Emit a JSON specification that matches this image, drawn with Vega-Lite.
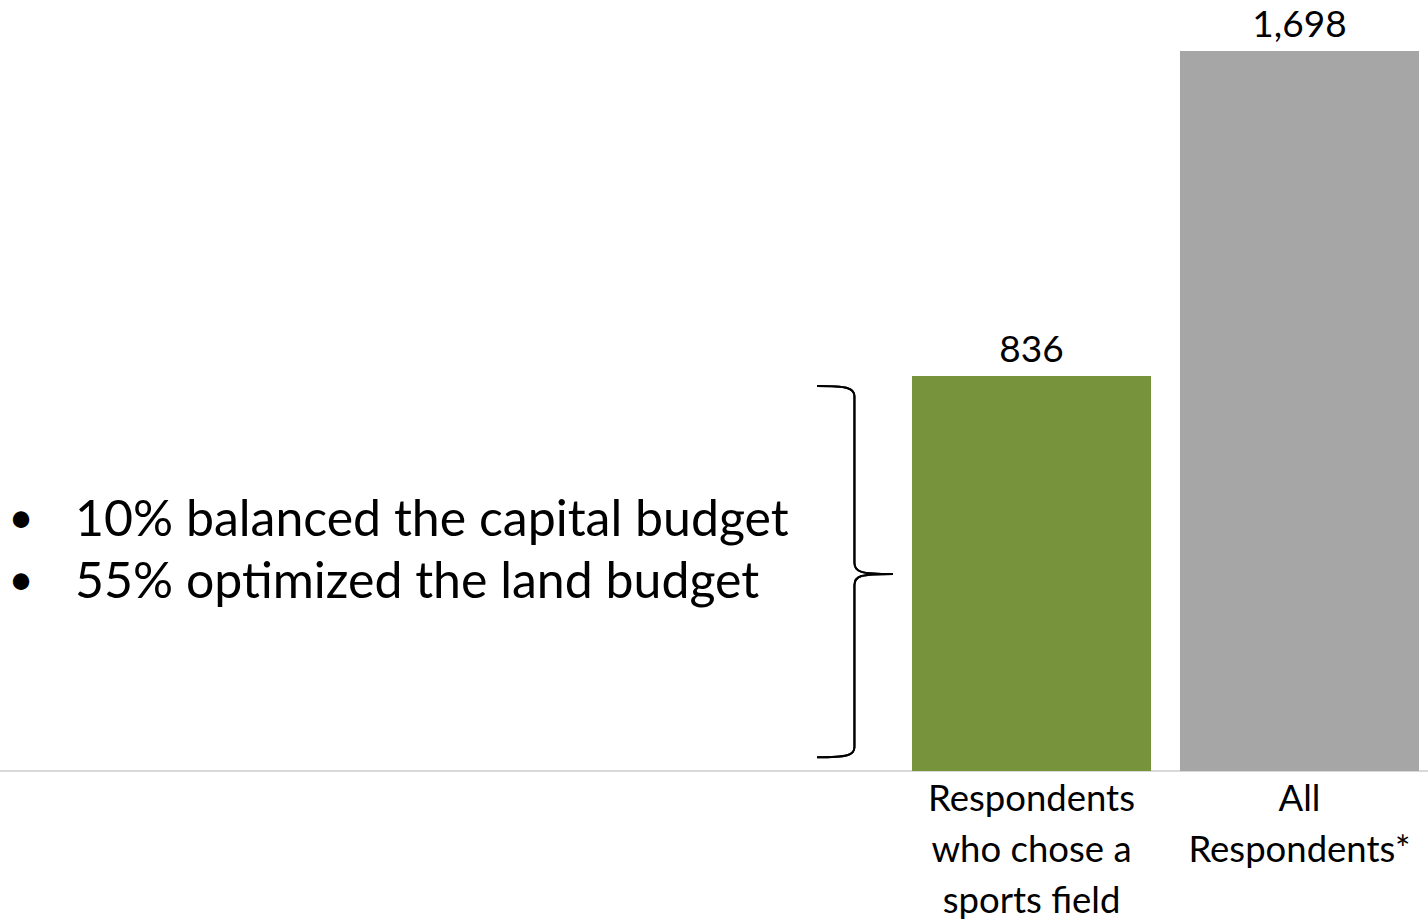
{
  "$schema": "https://vega.github.io/schema/vega-lite/v6.json",
  "width": 1428,
  "height": 771,
  "autosize": {"type": "none"},
  "padding": {"left": 0, "top": 0, "right": 0, "bottom": 149},
  "background": "white",
  "config": {"view": {"stroke": null}, "font": "Lato"},
  "layer": [
    {
      "data": {"values": [
        {"group": "Respondents who chose a sports field", "respondents": 836},
        {"group": "All Respondents*", "respondents": 1698}
      ]},
      "layer": [
        {
          "data": {"values": [{"line": "baseline"}]},
          "mark": {"type": "rule", "color": "#D9D9D9", "strokeWidth": 2},
          "encoding": {"y": {"datum": -211.6, "type": "quantitative", "axis": null}}
        },
        {
          "mark": {"type": "bar"},
          "encoding": {
            "x": {
              "field": "group", "type": "nominal", "sort": null,
              "scale": {"range": [912, 1419], "paddingInner": 0.108, "paddingOuter": 0},
              "axis": {
                "title": null, "domain": false, "ticks": false, "labelAngle": 0,
                "labelFont": "Lato", "labelFontSize": 36.5, "labelColor": "black",
                "labelLineHeight": 51, "labelPadding": 39, "labelBaseline": "alphabetic",
                "labelLimit": 500, "labelOverlap": false,
                "labelExpr": "datum.label == 'All Respondents*' ? ['All', 'Respondents*'] : ['Respondents', 'who chose a', 'sports field']"
              }
            },
            "y": {
              "field": "respondents", "type": "quantitative", "axis": null,
              "scale": {"domain": [-211.6, 1833.3], "nice": false, "zero": false}
            },
            "y2": {"datum": -211.6},
            "color": {
              "field": "group", "type": "nominal", "legend": null,
              "scale": {"domain": ["Respondents who chose a sports field", "All Respondents*"], "range": ["#77933C", "#A6A6A6"]}
            }
          }
        },
        {
          "mark": {"type": "text", "baseline": "alphabetic", "dy": -14, "fontSize": 37, "color": "black", "font": "Lato"},
          "encoding": {
            "x": {"field": "group", "type": "nominal", "sort": null},
            "y": {"field": "respondents", "type": "quantitative"},
            "text": {"field": "respondents", "type": "quantitative", "format": ","}
          }
        },
        {
          "mark": {
            "type": "point", "filled": false, "stroke": "black", "strokeWidth": 2, "opacity": 1,
            "size": 138384,
            "shape": "M -1.153 -1.01 C -0.99 -1.01 -0.952 -1.0 -0.952 -0.955 L -0.952 -0.06 C -0.952 -0.01 -0.92 0 -0.745 0 C -0.92 0 -0.952 0.01 -0.952 0.06 L -0.952 0.93 C -0.952 0.975 -0.99 0.985 -1.153 0.985"
          },
          "encoding": {
            "x": {"datum": "Respondents who chose a sports field", "type": "nominal"},
            "y": {"datum": 311, "type": "quantitative"}
          }
        }
      ]
    },
    {
      "data": {"values": [
        {"line": 1, "note": "10% balanced the capital budget"},
        {"line": 2, "note": "55% optimized the land budget"}
      ]},
      "encoding": {
        "y": {"field": "line", "type": "ordinal", "axis": null, "scale": {"type": "point", "range": [536, 598], "padding": 0}}
      },
      "layer": [
        {
          "mark": {"type": "text", "text": "•", "align": "center", "baseline": "alphabetic", "fontSize": 44, "dy": -3, "color": "black", "font": "Lato"},
          "encoding": {
            "x": {"datum": "bullet", "type": "nominal", "axis": null, "scale": {"type": "point", "domain": ["bullet", "note"], "range": [21, 75], "padding": 0}}
          }
        },
        {
          "mark": {"type": "text", "align": "left", "baseline": "alphabetic", "fontSize": 50, "color": "black", "font": "Lato"},
          "encoding": {
            "x": {"datum": "note", "type": "nominal", "axis": null},
            "text": {"field": "note"}
          }
        }
      ]
    }
  ],
  "resolve": {"scale": {"x": "independent", "y": "independent"}}
}
